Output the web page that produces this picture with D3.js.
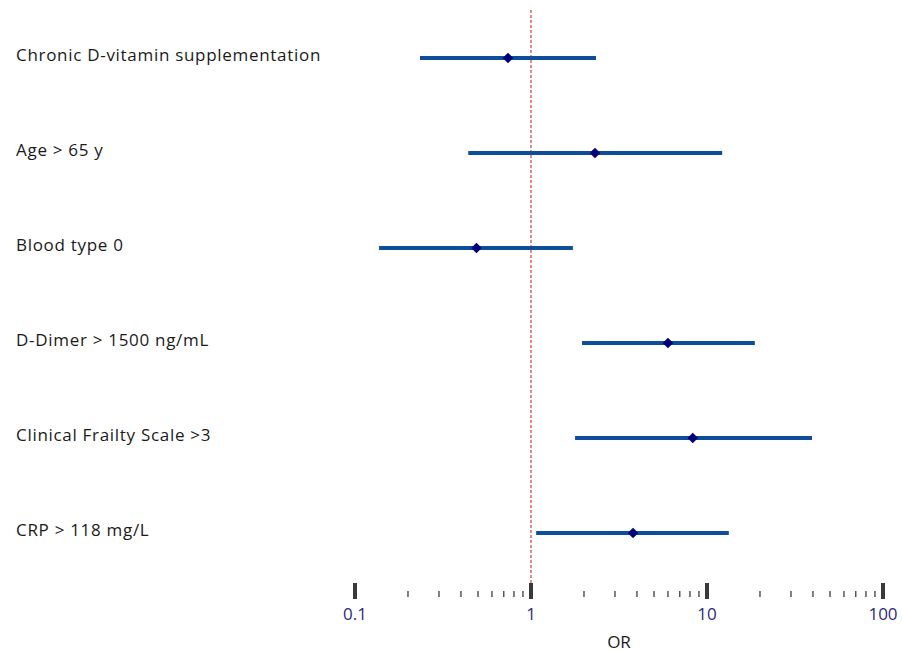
<!DOCTYPE html>
<html>
<head>
<script src="https://d3js.org/d3.v7.min.js"></script>
<style>
  body { margin: 0; background: #fff; }
  text { font-family: "Open Sans", sans-serif; }
</style>
</head>
<body>
<div id="chart"></div>
<script>
// forest plot data (odds ratios with 95% CI)
var labels = ["Chronic D-vitamin supplementation", "Age > 65 y", "Blood type 0",
              "D-Dimer > 1500 ng/mL", "Clinical Frailty Scale >3", "CRP > 118 mg/L"];
var orValues = [0.74, 2.31, 0.49, 6.0, 8.3, 3.8];
var lowerCI  = [0.234, 0.44, 0.137, 1.95, 1.78, 1.07];
var upperCI  = [2.34, 12.2, 1.73, 18.7, 39.5, 13.3];
var majorTicks = [0.1, 1, 10, 100];
var tickLabels = ["0.1", "1", "10", "100"];

var width = 902, height = 652;

var svg = d3.select("#chart").append("svg")
  .attr("width", width)
  .attr("height", height);

var x = d3.scaleLog()
  .domain([0.1, 100])
  .range([355, 883]);

var y = d3.scalePoint()
  .domain(d3.range(labels.length))
  .range([58, 533]);

// reference line at OR = 1
svg.append("line")
  .attr("x1", x(1)).attr("x2", x(1))
  .attr("y1", 10).attr("y2", 584)
  .attr("stroke", "#d23c3c")
  .attr("stroke-width", 1.2)
  .attr("stroke-dasharray", "3,2");

// row labels
svg.selectAll(".lbl")
  .data(labels)
  .enter().append("text")
  .attr("class", "lbl")
  .attr("x", 16)
  .attr("y", function(d, i) { return y(i) + 3; })
  .style("font-size", "17px")
  .style("letter-spacing", "0.7px")
  .style("fill", "#1a1a1a")
  .text(function(d) { return d; });

// confidence intervals
svg.selectAll(".ci")
  .data(labels)
  .enter().append("line")
  .attr("class", "ci")
  .attr("x1", function(d, i) { return x(lowerCI[i]); })
  .attr("x2", function(d, i) { return x(upperCI[i]); })
  .attr("y1", function(d, i) { return y(i); })
  .attr("y2", function(d, i) { return y(i); })
  .attr("stroke", "#0d4e9a")
  .attr("stroke-width", 4);

// point estimates
var diamond = d3.symbol().type(d3.symbolDiamond2).size(72);
svg.selectAll(".pt")
  .data(orValues)
  .enter().append("path")
  .attr("class", "pt")
  .attr("d", diamond)
  .attr("transform", function(d, i) { return "translate(" + x(d) + "," + y(i) + ")"; })
  .attr("fill", "#00007a");

// minor ticks
var minor = [];
[0.1, 1, 10].forEach(function(b) {
  for (var k = 2; k <= 9; k++) minor.push(b * k);
});

svg.selectAll(".minor")
  .data(minor)
  .enter().append("line")
  .attr("x1", function(d) { return x(d); })
  .attr("x2", function(d) { return x(d); })
  .attr("y1", 591).attr("y2", 597)
  .attr("stroke", "#555")
  .attr("stroke-width", 1.5);

svg.selectAll(".major")
  .data(majorTicks)
  .enter().append("line")
  .attr("x1", function(d) { return x(d); })
  .attr("x2", function(d) { return x(d); })
  .attr("y1", 583).attr("y2", 599)
  .attr("stroke", "#3a3a3a")
  .attr("stroke-width", 4);

svg.selectAll(".tlbl")
  .data(majorTicks)
  .enter().append("text")
  .attr("x", function(d) { return x(d); })
  .attr("y", 614)
  .attr("dy", "0.35em")
  .attr("text-anchor", "middle")
  .style("font-size", "17px")
  .style("fill", "#2e2a7a")
  .text(function(d, i) { return tickLabels[i]; });

// axis title
svg.append("text")
  .attr("x", (x(0.1) + x(100)) / 2)
  .attr("y", 642)
  .attr("dy", "0.35em")
  .attr("text-anchor", "middle")
  .style("font-size", "17px")
  .style("fill", "#1a1a1a")
  .text("OR");
</script>
</body>
</html>
